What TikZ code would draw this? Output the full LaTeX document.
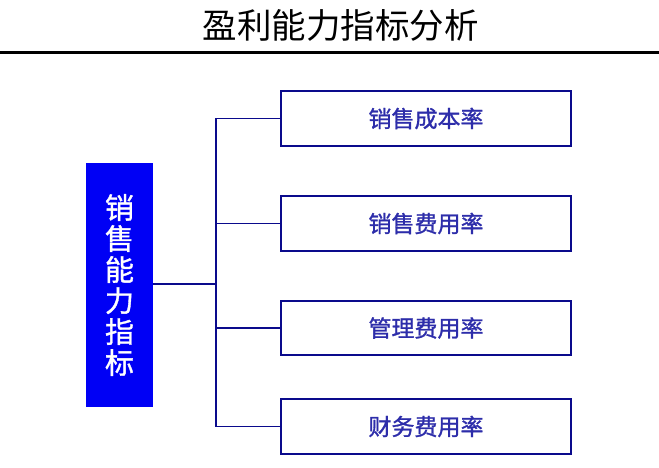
\documentclass[tikz,border=0pt]{standalone}
\usepackage{fontspec}
\setmainfont{Noto Sans CJK SC}
\newfontfamily\cjkbold{Noto Sans CJK SC}[FakeBold=1.2]
\definecolor{boxblue}{RGB}{0,0,245}
\definecolor{navy}{RGB}{10,10,140}
\definecolor{txtblue}{RGB}{45,45,170}
\begin{document}
\begin{tikzpicture}[x=1pt,y=-1pt,
  itembox/.style={draw=navy,line width=1.3pt,fill=white,minimum width=290pt,minimum height=55pt,inner sep=0pt,
    text=txtblue,font=\cjkbold\fontsize{23}{26}\selectfont},
  conn/.style={draw=navy,line width=1.2pt}]
\useasboundingbox (0,0) rectangle (659,468);
\fill[white] (0,0) rectangle (659,468);
\node[font=\fontsize{34.5}{36}\selectfont,text=black,inner sep=0pt] (title) at (340.5,25) {盈利能力指标分析};
\coordinate (rl) at (0,53);
\coordinate (rr) at (659,53);
\draw[line width=3pt,black] (rl) -- (rr);
\node[fill=boxblue,minimum width=67pt,minimum height=244pt,inner sep=0pt,text=white,align=center,
  font=\cjkbold\fontsize{29}{31}\selectfont] (L) at (119.5,285) {销\\售\\能\\力\\指\\标};
\node[itembox] (b1) at (426,118.5) {销售成本率};
\node[itembox] (b2) at (426,223.5) {销售费用率};
\node[itembox,minimum height=54pt] (b3) at (426,328) {管理费用率};
\node[itembox] (b4) at (426,426.5) {财务费用率};
\coordinate (j) at (216,284);
\draw[conn] (L.east|-j) -- (j);
\draw[conn] (j) |- (b1.west);
\draw[conn] (j) |- (b2.west);
\draw[conn] (j) |- (b3.west);
\draw[conn] (j) |- (b4.west);
\end{tikzpicture}
\end{document}
